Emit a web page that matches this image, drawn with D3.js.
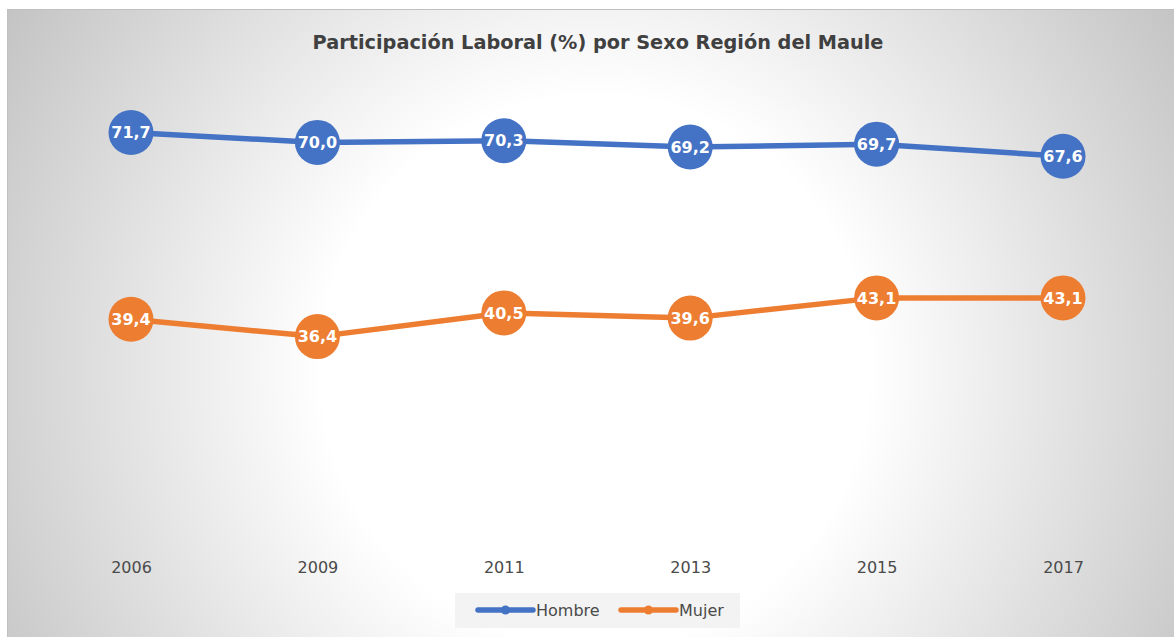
<!DOCTYPE html>
<html>
<head>
<meta charset="utf-8">
<script src="https://cdn.jsdelivr.net/npm/d3@7"></script>
<style>
	body { margin: 0; background: #fff; }
	svg { display: block; font-family: "DejaVu Sans", Verdana, sans-serif; }
</style>
</head>
<body>
<div id="chart-area"></div>
<script>
var years = ['2006', '2009', '2011', '2013', '2015', '2017'];
var hombre = [71.7, 70.0, 70.3, 69.2, 69.7, 67.6];
var mujer = [39.4, 36.4, 40.5, 39.6, 43.1, 43.1];
var seriesNames = ['Hombre', 'Mujer'];
var seriesColors = ['#4472c4', '#ed7d31'];

var W = 1174, H = 637;

var svg = d3.select('#chart-area')
	.append('svg')
	.attr('width', W)
	.attr('height', H);

// radial background like the Excel chart area
var grad = svg.append('defs').append('radialGradient')
	.attr('id', 'bg')
	.attr('gradientUnits', 'userSpaceOnUse')
	.attr('cx', 595).attr('cy', 370).attr('r', 700);
grad.append('stop').attr('offset', 0).attr('stop-color', '#ffffff');
grad.append('stop').attr('offset', 0.39).attr('stop-color', '#ffffff');
grad.append('stop').attr('offset', 1).attr('stop-color', '#c2c2c2');

svg.append('rect')
	.attr('x', 7.5).attr('y', 9.5)
	.attr('width', W).attr('height', H)
	.attr('fill', 'url(#bg)')
	.attr('stroke', '#c0c0c0')
	.attr('stroke-width', 1);

svg.append('text')
	.attr('x', 598)
	.attr('y', 49)
	.attr('text-anchor', 'middle')
	.attr('font-size', '19.3px')
	.attr('font-weight', 'bold')
	.attr('fill', '#404040')
	.text('Participación Laboral (%) por Sexo Región del Maule');

var x = d3.scalePoint()
	.domain(years)
	.range([131, 1063]);
var y = d3.scaleLinear()
	.domain([0, 80])
	.range([547, 84.6]);

var xAxisCall = d3.axisBottom(x).tickSize(0).tickPadding(0);
var xAxis = svg.append('g')
	.attr('transform', 'translate(0, 559)')
	.call(xAxisCall);
xAxis.select('.domain').remove();
xAxis.selectAll('text')
	.attr('font-size', '16px')
	.attr('font-family', '"DejaVu Sans", Verdana, sans-serif')
	.attr('fill', '#4a4a4a')
	.attr('dy', '0.9em');

var line = d3.line()
	.x((d, i) => x(years[i]))
	.y(d => y(d));

[hombre, mujer].forEach((vals, s) => {
	var g = svg.append('g');
	g.append('path')
		.datum(vals)
		.attr('d', line)
		.attr('fill', 'none')
		.attr('stroke', seriesColors[s])
		.attr('stroke-width', 5.5)
		.attr('stroke-linejoin', 'round');

	g.selectAll('circle')
		.data(vals)
		.enter().append('circle')
		.attr('cx', (d, i) => x(years[i]))
		.attr('cy', d => y(d))
		.attr('r', 22.5)
		.attr('fill', seriesColors[s]);

	g.selectAll('text')
		.data(vals)
		.enter().append('text')
		.attr('x', (d, i) => x(years[i]))
		.attr('y', d => y(d))
		.attr('dy', '0.36em')
		.attr('text-anchor', 'middle')
		.attr('font-size', '16px')
		.attr('font-weight', 'bold')
		.attr('fill', '#ffffff')
		.text(d => d3.format('.1f')(d).replace('.', ','));
});

// legend
var legend = svg.append('g');
legend.append('rect')
	.attr('x', 455).attr('y', 593)
	.attr('width', 285).attr('height', 35)
	.attr('fill', '#f3f3f3');

var legendX = [478, 621];
seriesNames.forEach((name, i) => {
	var row = legend.append('g')
		.attr('transform', `translate(${legendX[i]}, 610)`);
	row.append('line')
		.attr('x1', 0).attr('x2', 55)
		.attr('stroke', seriesColors[i])
		.attr('stroke-width', 5.5)
		.attr('stroke-linecap', 'round');
	row.append('circle')
		.attr('cx', 27.5)
		.attr('r', 4.5)
		.attr('fill', seriesColors[i]);
	row.append('text')
		.attr('x', 58)
		.attr('y', 6)
		.attr('font-size', '16px')
		.attr('fill', '#4a4a4a')
		.text(name);
});
</script>
</body>
</html>
